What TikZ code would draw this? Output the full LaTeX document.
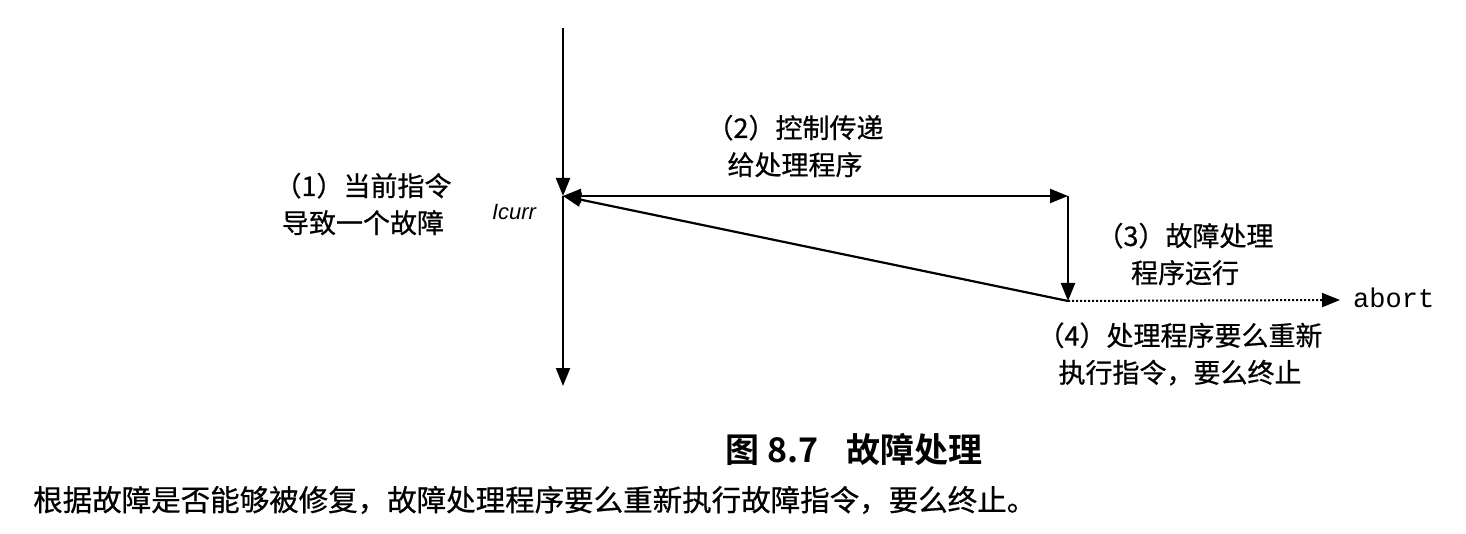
\documentclass[tikz,border=0pt]{standalone}
\usepackage{fontspec}
\setmainfont{Liberation Serif}
\newfontfamily\cjk{Noto Sans CJK SC}[FakeBold=0.6]
\newfontfamily\cjkb{Noto Sans CJK SC}[BoldFont={Noto Sans CJK SC Bold}]
\newfontfamily\helv{Liberation Sans}
\newfontfamily\mono{Liberation Mono}
\usetikzlibrary{arrows.meta}
\begin{document}
\begin{tikzpicture}[x=1pt,y=-1pt,
  tip/.style={-{Triangle[length=18pt,width=14pt]}},
  lbl/.style={font=\cjk\fontsize{27}{37}\selectfont, align=center, inner sep=0pt},
  ln/.style={line width=2.2pt}]
\useasboundingbox[fill=white] (0,0) rectangle (1466,534);
\coordinate (top) at (563,28);
\coordinate (j) at (563,196);
\coordinate (bot) at (563,386);
\coordinate (h) at (1068,196);
\coordinate (hb) at (1068,301);
\coordinate (ab) at (1340,300);
\draw[ln,tip] (top) -- (j);
\draw[ln,tip] (j) -- (bot);
\draw[ln,{Triangle[length=18pt,width=14pt]}-{Triangle[length=18pt,width=14pt]}] (j) -- (h);
\draw[ln,tip] (h) -- (hb);
\draw[ln,tip] (hb) -- (j);
\draw[line width=2pt,dotted,tip] (hb) -- (ab);
\node[lbl] (l1) at (363,204) {（1）当前指令\\导致一个故障};
\node[font=\helv\itshape\fontsize{22}{26}\selectfont, inner sep=0pt] (ic) at (514,212) {Icurr};
\node[lbl] (l2) at (795,146) {（2）控制传递\\给处理程序};
\node[lbl] (l3) at (1185,254) {（3）故障处理\\程序运行};
\node[lbl] (l4) at (1180,354) {（4）处理程序要么重新\\执行指令，要么终止};
\node[font=\mono\fontsize{27}{30}\selectfont, inner sep=0pt, anchor=west] (abt) at (1353,298) {abort};
\node[font=\cjkb\bfseries\fontsize{34}{40}\selectfont, inner sep=0pt] (cap) at (854,450) {图 8.7\hspace{0.8em}故障处理};
\node[font=\cjk\fontsize{29.5}{32}\selectfont, inner sep=0pt, anchor=west] (bt) at (33,500) {根据故障是否能够被修复，故障处理程序要么重新执行故障指令，要么终止。};
\end{tikzpicture}
\end{document}
